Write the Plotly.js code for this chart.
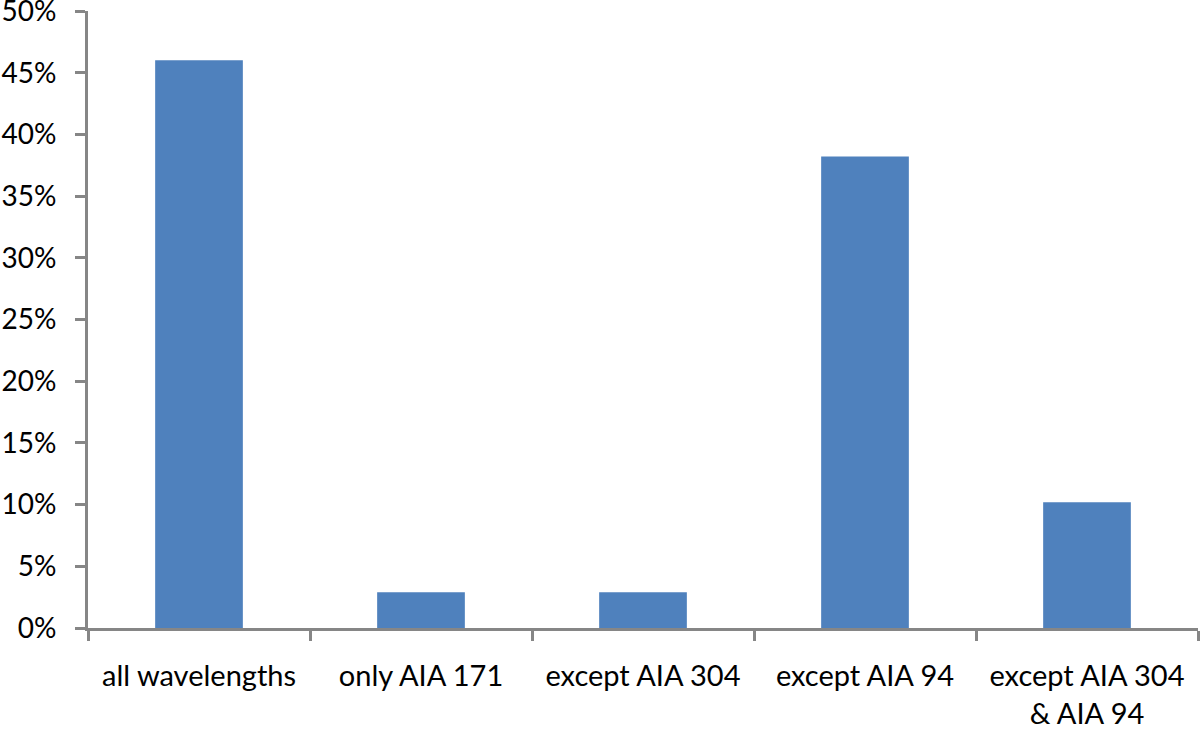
<!DOCTYPE html>
<html>
<head>
<meta charset="utf-8">
<script src="https://cdn.plot.ly/plotly-3.0.1.min.js"></script>
<style>body{margin:0;background:#fff}#chart{width:1200px;height:731px}</style>
</head>
<body>
<div id="chart"></div>
<script>
const categories = ["all wavelengths", "only AIA 171", "except AIA 304", "except AIA 94", "except AIA 304<br>& AIA 94"];
const values = [0.46, 0.029, 0.029, 0.382, 0.102];
const yTickVals = [0, 0.05, 0.10, 0.15, 0.20, 0.25, 0.30, 0.35, 0.40, 0.45, 0.50];
const yTickText = ["0%", "5%", "10%", "15%", "20%", "25%", "30%", "35%", "40%", "45%", "50%"];

const axisColor = "#868686";
Plotly.newPlot("chart", [{
  type: "bar",
  x: categories,
  y: values,
  marker: {color: "#4F81BD"},
  hoverinfo: "x+y"
}], {
  width: 1200, height: 731,
  margin: {l: 88, r: 2, t: 11, b: 103},
  paper_bgcolor: "#fff", plot_bgcolor: "#fff",
  bargap: 0.605,
  font: {family: "Lato, 'Open Sans', sans-serif", size: 29, color: "#000"},
  showlegend: false,
  xaxis: {
    type: "category",
    showline: true, linecolor: axisColor, linewidth: 3,
    ticks: "outside", tickson: "boundaries", ticklen: 10, tickwidth: 3, tickcolor: axisColor,
    showgrid: false, zeroline: false,
    ticklabelstandoff: 20,
    tickfont: {size: 29}
  },
  yaxis: {
    range: [0, 0.5],
    tickvals: yTickVals, ticktext: yTickText,
    showline: true, linecolor: axisColor, linewidth: 3,
    ticks: "outside", ticklen: 10, tickwidth: 3, tickcolor: axisColor,
    showgrid: false, zeroline: false,
    ticklabelstandoff: 13,
    ticklabeloverflow: "allow",
    tickfont: {size: 28}
  }
}, {displayModeBar: false});
</script>
</body>
</html>
